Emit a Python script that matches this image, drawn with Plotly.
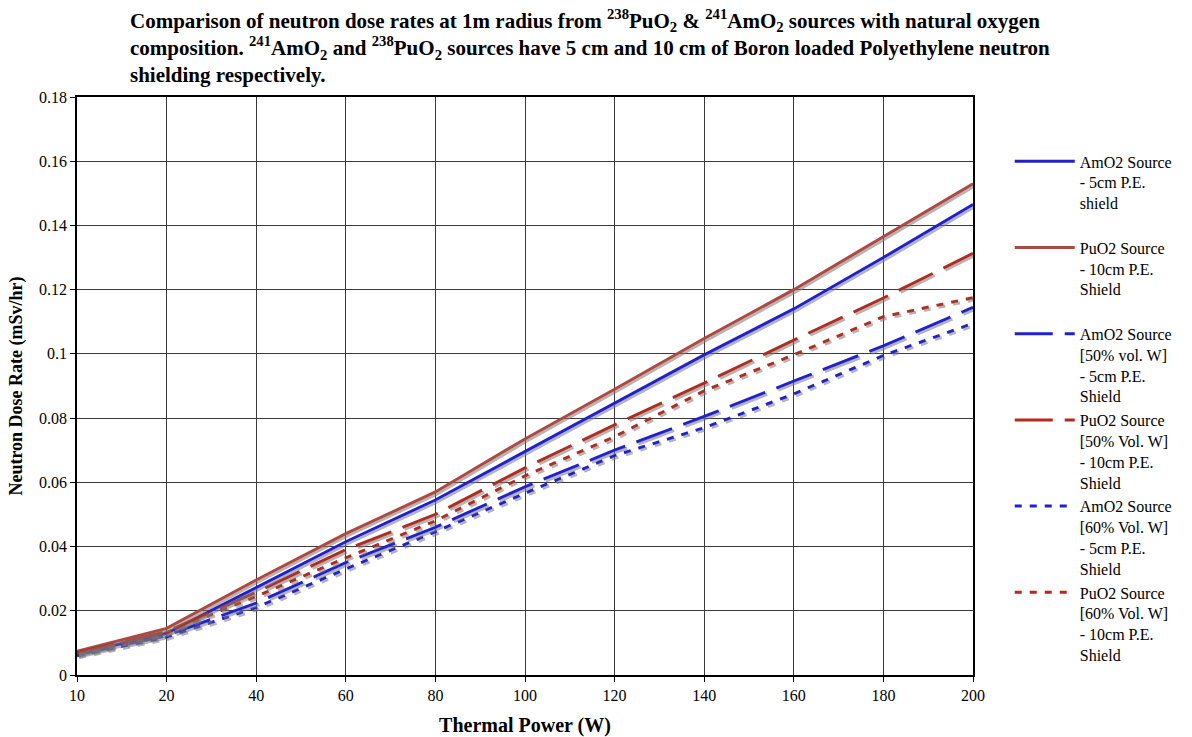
import plotly.graph_objects as go

power = ["10", "20", "40", "60", "80", "100", "120", "140", "160", "180", "200"]

amo2_5cm = [0.0066, 0.0130, 0.0272, 0.0415, 0.0545, 0.0695, 0.0845, 0.0997, 0.1140, 0.1300, 0.1465]
puo2_10cm = [0.0074, 0.0145, 0.0296, 0.0440, 0.0570, 0.0735, 0.0890, 0.1048, 0.1200, 0.1365, 0.1530]
amo2_50w = [0.0063, 0.0123, 0.0224, 0.0350, 0.0460, 0.0586, 0.0700, 0.0805, 0.0915, 0.1025, 0.1145]
puo2_50w = [0.0070, 0.0135, 0.0258, 0.0390, 0.0500, 0.0645, 0.0779, 0.0909, 0.1043, 0.1174, 0.1313]
amo2_60w = [0.0060, 0.0118, 0.0210, 0.0330, 0.0446, 0.0566, 0.0683, 0.0770, 0.0875, 0.0995, 0.1095]
puo2_60w = [0.0068, 0.0132, 0.0245, 0.0365, 0.0480, 0.0620, 0.0742, 0.0885, 0.0997, 0.1116, 0.1175]

NB = "\u00a0"
names = [
    "AmO2 Source<br>- 5cm P.E.<br>shield<br>" + NB,
    "PuO2 Source<br>- 10cm P.E.<br>Shield<br>" + NB,
    "AmO2 Source<br>[50% vol. W]<br>- 5cm P.E.<br>Shield",
    "PuO2 Source<br>[50% Vol. W]<br>- 10cm P.E.<br>Shield",
    "AmO2 Source<br>[60% Vol. W]<br>- 5cm P.E.<br>Shield",
    "PuO2 Source<br>[60% Vol. W]<br>- 10cm P.E.<br>Shield",
]
series = [amo2_5cm, puo2_10cm, amo2_50w, puo2_50w, amo2_60w, puo2_60w]
colors = ["#1f1fd6", "#b4463c", "#1f1fd6", "#b52a1c", "#1f1fd6", "#b52a1c"]
dashes = ["solid", "solid", "38px,12px", "38px,12px", "7px,8px", "7px,8px"]

SERIF = "Liberation Serif"

fig = go.Figure()

# drop shadows (same data on slightly offset overlay axes)
for vals, d in zip(series, dashes):
    fig.add_trace(go.Scatter(
        x=power, y=vals, mode="lines", xaxis="x2", yaxis="y2",
        line=dict(color="rgba(120,120,120,0.55)", width=3, dash=d),
        showlegend=False, hoverinfo="skip"))

for i, (vals, name, c, d) in enumerate(zip(series, names, colors, dashes)):
    fig.add_trace(go.Scatter(
        x=power, y=vals, mode="lines", name=name, legendgroup=f"g{i}",
        line=dict(color=c, width=3, dash=d)))

title_text = ("Comparison of neutron dose rates at 1m radius from <sup>238</sup>PuO<sub>2</sub> &amp; "
              "<sup>241</sup>AmO<sub>2</sub> sources with natural oxygen<br>"
              "composition. <sup>241</sup>AmO<sub>2</sub> and <sup>238</sup>PuO<sub>2</sub> sources have "
              "5 cm and 10 cm of Boron loaded Polyethylene neutron<br>shielding respectively.")

L, R, T, B = 77, 219, 97, 62
plot_w = 1192 - L - R
plot_h = 737 - T - B
dx = 2.0 / (plot_w / 10.0)
dy = 2.0 * 0.18 / plot_h

fig.add_annotation(
    text="<b>" + title_text + "</b>", xref="paper", yref="paper",
    x=(128 - L) / plot_w, xanchor="left", y=(737 - B - 4) / plot_h, yanchor="top",
    align="left", showarrow=False, font=dict(family=SERIF, size=21, color="black"))

fig.update_layout(
    width=1192, height=737,
    margin=dict(l=L, r=R, t=T, b=B),
    paper_bgcolor="white", plot_bgcolor="white",
    font=dict(family=SERIF, color="black", size=16),
    xaxis=dict(type="category", range=[0, 10], showgrid=True, gridcolor="#3a3a3a", gridwidth=1.2,
               showline=True, linecolor="black", linewidth=1.5, mirror=True,
               ticks="outside", ticklen=5, tickcolor="black", automargin=False,
               tickfont=dict(family=SERIF, size=16),
               title=dict(text="<b>Thermal Power (W)</b>", font=dict(family=SERIF, size=20), standoff=20)),
    yaxis=dict(range=[0, 0.18], dtick=0.02, showgrid=True, gridcolor="#3a3a3a", gridwidth=1.2,
               showline=True, linecolor="black", linewidth=1.5, mirror=True,
               ticks="outside", ticklen=5, tickcolor="black", zeroline=False, automargin=False,
               tickfont=dict(family=SERIF, size=16),
               title=dict(text="<b>Neutron Dose Rate (mSv/hr)</b>", font=dict(family=SERIF, size=18), standoff=12)),
    xaxis2=dict(type="category", overlaying="x", range=[-dx, 10 - dx], visible=False),
    yaxis2=dict(overlaying="y", range=[dy, 0.18 + dy], visible=False),
    legend=dict(x=1.041, xanchor="left", y=0.918, yanchor="top", valign="top", itemwidth=60,
                font=dict(family=SERIF, size=16), tracegroupgap=0, bgcolor="rgba(0,0,0,0)"),
    showlegend=True,
)

fig.write_html("out.html")
